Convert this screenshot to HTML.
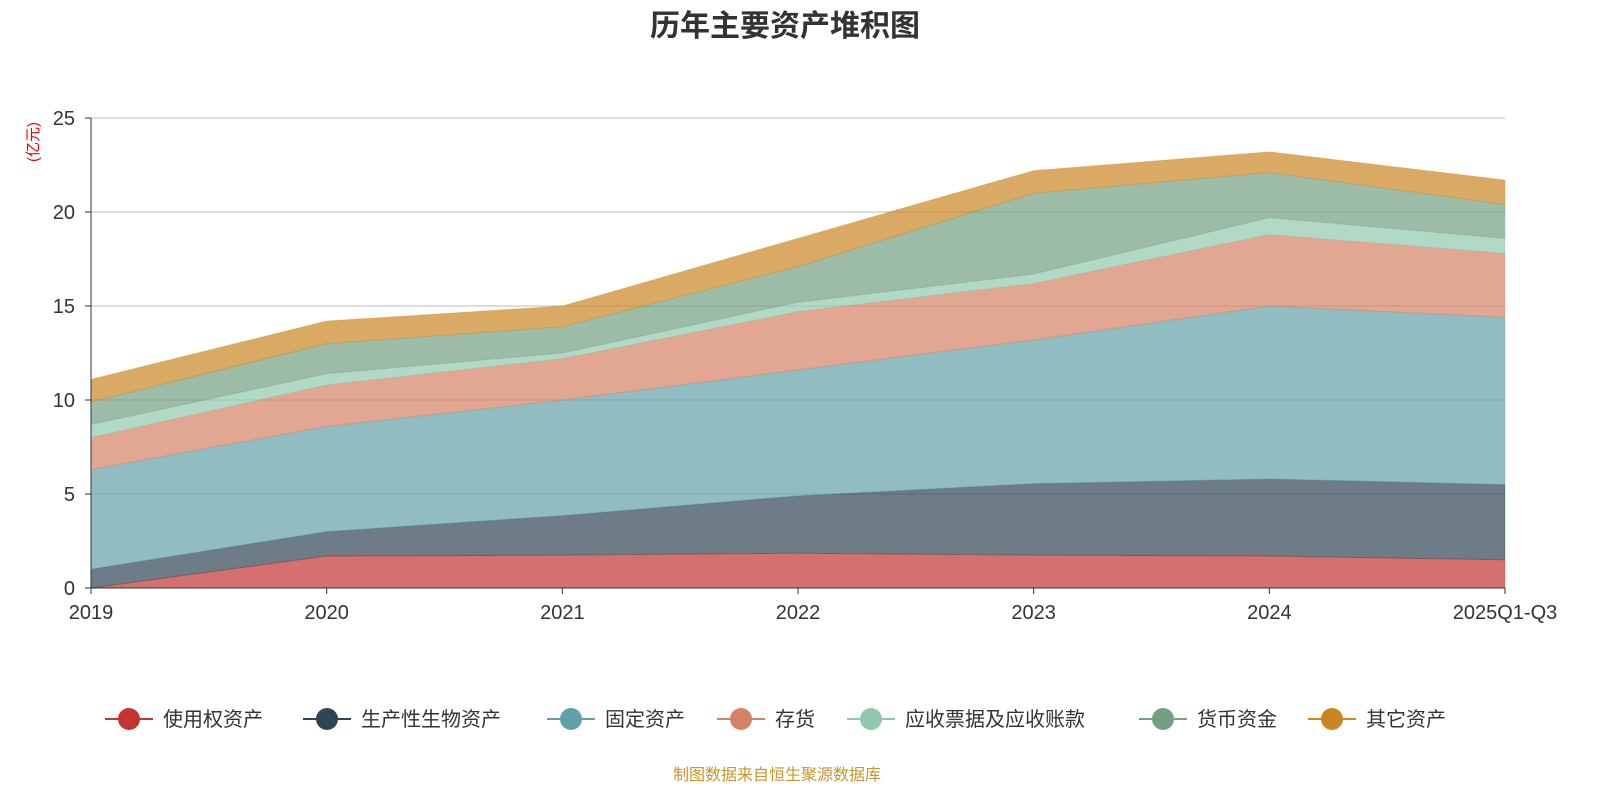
<!DOCTYPE html>
<html><head><meta charset="utf-8"><style>
body{margin:0;background:#fff;width:1600px;height:800px;overflow:hidden;font-family:"Liberation Sans","Noto Sans CJK SC",sans-serif}
</style></head><body>
<svg id="c" width="1600" height="800" xmlns="http://www.w3.org/2000/svg">
<text x="785" y="36" text-anchor="middle" font-size="30" font-weight="bold" fill="#333" font-family="Liberation Sans,Noto Sans CJK SC,sans-serif">历年主要资产堆积图</text>
<text transform="translate(38,142) rotate(-90)" text-anchor="middle" font-size="15" fill="#e00" font-family="Liberation Sans,Noto Sans CJK SC,sans-serif">(亿元)</text>
<g id="grid"></g><g id="areas"></g><g id="axes"></g><g id="legend"></g>
<text x="777" y="780" text-anchor="middle" font-size="16" fill="#c8952c" font-family="Liberation Sans,Noto Sans CJK SC,sans-serif">制图数据来自恒生聚源数据库</text>
</svg>
<script>
const categories=["2019","2020","2021","2022","2023","2024","2025Q1-Q3"];
const seriesNames=["使用权资产","生产性生物资产","固定资产","存货","应收票据及应收账款","货币资金","其它资产"];
const sRight=[0,1.7,1.75,1.85,1.75,1.7,1.5];
const sBio=[1.0,1.3,2.1,3.05,3.8,4.1,4.0];
const sFixed=[5.3,5.6,6.15,6.7,7.65,9.2,8.9];
const sInv=[1.7,2.2,2.2,3.1,3.0,3.8,3.4];
const sRecv=[0.7,0.6,0.3,0.5,0.5,0.9,0.8];
const sCash=[1.2,1.6,1.4,1.9,4.3,2.4,1.8];
const sOther=[1.2,1.2,1.1,1.5,1.2,1.1,1.3];
const yTicks=[0,5,10,15,20,25];
const series=[sRight,sBio,sFixed,sInv,sRecv,sCash,sOther];
const colors=["#c23531","#2f4554","#61a0a8","#d48265","#91c7ae","#749f83","#ca8622"];
const NS="http://www.w3.org/2000/svg";
const x0=91,x1=1505,y0=588,y1=118,yMax=25;
const xs=i=>x0+(x1-x0)*i/(categories.length-1);
const ys=v=>y0-(y0-y1)*v/yMax;
function mk(t,a,p){const e=document.createElementNS(NS,t);for(const k in a)e.setAttribute(k,a[k]);p.appendChild(e);return e;}
const grid=document.getElementById('grid'),areas=document.getElementById('areas'),axes=document.getElementById('axes'),leg=document.getElementById('legend');
yTicks.forEach(v=>{
 if(v>0){const l=mk('line',{x1:x0,x2:x1,y1:ys(v),y2:ys(v),stroke:'#bbb','stroke-width':1},grid);
 
 }
 const t=mk('text',{x:x0-16,y:ys(v)+7,'text-anchor':'end','font-size':20,fill:'#333'},axes);t.textContent=v;
 
 
 mk('line',{x1:x0-6,x2:x0,y1:ys(v),y2:ys(v),stroke:'#333'},axes);
});
let base=categories.map(()=>0);
series.forEach((s,k)=>{
 const top=s.map((v,i)=>base[i]+v);
 let d='M'+categories.map((c,i)=>xs(i)+','+ys(top[i])).join('L');
 for(let i=categories.length-1;i>=0;i--)d+='L'+xs(i)+','+ys(base[i]);
 const p=mk('path',{d:d+'Z',fill:colors[k],'fill-opacity':0.7,stroke:colors[k],'stroke-opacity':0.3},areas);
 
 
 base=top;
});
mk('line',{x1:x0,x2:x0,y1:y1,y2:y0,stroke:'#333'},axes);
mk('line',{x1:x0,x2:x1,y1:y0,y2:y0,stroke:'#333'},axes);
categories.forEach((c,i)=>{
 mk('line',{x1:xs(i),x2:xs(i),y1:y0,y2:y0+6,stroke:'#333'},axes);
 const t=mk('text',{x:xs(i),y:y0+31,'text-anchor':'middle','font-size':20,fill:'#333'},axes);t.textContent=c;
 
 
});
const lx=[105,303,547,717,847,1139,1308];
seriesNames.forEach((n,k)=>{
 const g=mk('g',{},leg);
 
 
 mk('line',{x1:lx[k],x2:lx[k]+48,y1:719,y2:719,stroke:colors[k],'stroke-width':2},g);
 mk('circle',{cx:lx[k]+24,cy:719,r:11,fill:colors[k]},g);
 const t=mk('text',{x:lx[k]+58,y:726,'font-size':20,fill:'#333'},g);t.textContent=n;
});
</script>
</body></html>
